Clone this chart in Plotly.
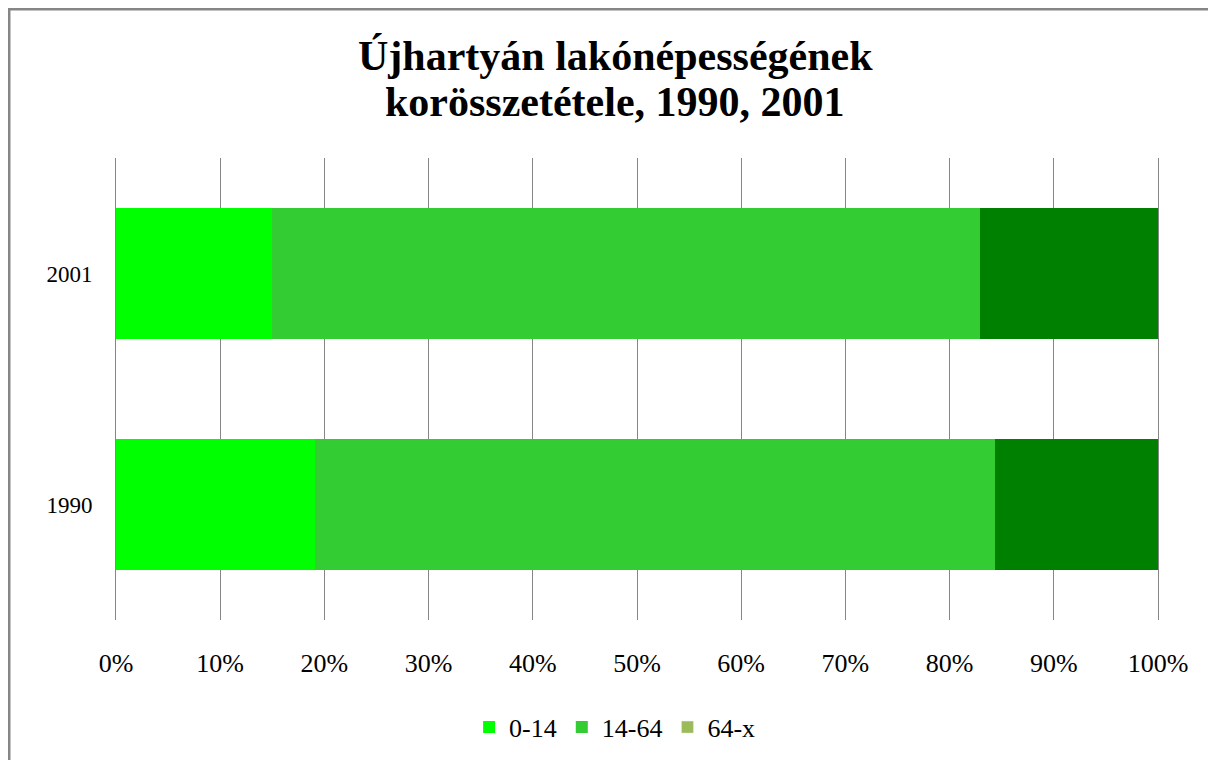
import plotly.graph_objects as go

years = ["1990", "2001"]
age_groups = ["0-14", "14-64", "64-x"]
share_0_14 = [19.1, 15.0]
share_14_64 = [65.3, 67.9]
share_64_x = [15.6, 17.1]
bar_colors = ["#00FF00", "#33CC33", "#008000"]
legend_colors = ["#00FF00", "#33CC33", "#9BBB59"]
x_ticks = [0, 10, 20, 30, 40, 50, 60, 70, 80, 90, 100]
x_ticklabels = [f"{v}%" for v in x_ticks]
title_lines = ["Újhartyán lakónépességének", "korösszetétele, 1990, 2001"]

series = [share_0_14, share_14_64, share_64_x]

fig = go.Figure()
for i, (name, vals) in enumerate(zip(age_groups, series)):
    fig.add_trace(go.Bar(
        x=vals, y=years, orientation="h", name=name,
        marker=dict(color=bar_colors[i], line=dict(width=0)),
        showlegend=(i < 2),
    ))
# legend entry for the third group uses the legend swatch colour of the original
fig.add_trace(go.Bar(x=[None], y=[None], orientation="h", name=age_groups[2],
                     marker=dict(color=legend_colors[2]), showlegend=True))

serif = "Liberation Serif"
fig.update_layout(
    barmode="stack",
    bargap=0.43,
    width=1216, height=760,
    margin=dict(l=108, r=66, t=150, b=148),
    paper_bgcolor="white", plot_bgcolor="white",
    font=dict(family=serif, size=22, color="black"),
    xaxis=dict(
        range=[0, 100], tickvals=x_ticks, ticktext=x_ticklabels,
        showgrid=True, gridcolor="#868686", gridwidth=1,
        zeroline=False, showline=False, ticks="",
        tickfont=dict(size=26), ticklabelstandoff=25,
    ),
    yaxis=dict(
        range=[-0.5, 1.5], showgrid=False, zeroline=False,
        showline=True, mirror=True, linecolor="#868686", linewidth=1,
        ticks="", tickfont=dict(size=23), ticklabelstandoff=18,
    ),
    legend=dict(
        orientation="h", x=0.479, xanchor="center", y=-0.232, yanchor="middle",
        font=dict(size=26), itemwidth=30, traceorder="normal",
    ),
    annotations=[
        dict(text=f"<b>{title_lines[0]}</b>", x=0.479, y=(620 - 56) / 462,
             xref="paper", yref="paper", xanchor="center", yanchor="middle",
             showarrow=False, font=dict(family=serif, size=42, color="black")),
        dict(text=f"<b>{title_lines[1]}</b>", x=0.479, y=(620 - 102) / 462,
             xref="paper", yref="paper", xanchor="center", yanchor="middle",
             showarrow=False, font=dict(family=serif, size=42, color="black")),
    ],
    shapes=[dict(
        type="rect", xref="paper", yref="paper",
        x0=-0.1027, x1=2.0, y0=-0.6, y1=1.3225,
        line=dict(color="#868686", width=3), fillcolor="rgba(0,0,0,0)",
        layer="below",
    )],
)

fig.write_html("out.html")
